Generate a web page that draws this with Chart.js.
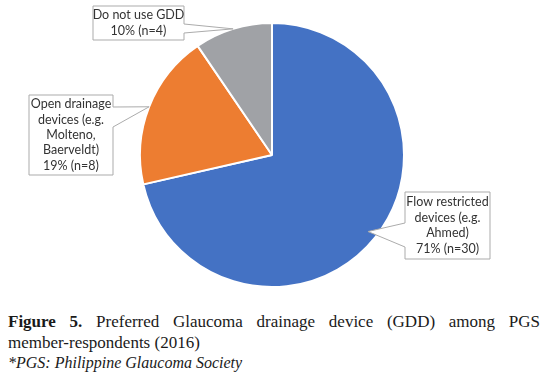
<!DOCTYPE html>
<html>
<head>
<meta charset="utf-8">
<script src="https://cdn.jsdelivr.net/npm/chart.js@4.4.0/dist/chart.umd.min.js"></script>
<style>
    body { margin: 0; background: #fff; width: 543px; height: 377px; overflow: hidden; position: relative; }
    #wrap { position: absolute; left: 0; top: 0; width: 543px; height: 300px; }
    #caption {
        position: absolute; left: 8px; top: 312px; width: 532px;
        font-family: 'Liberation Serif', serif; font-size: 17px; line-height: 20.5px; color: #1a1a1a;
    }
    #caption .l1 { text-align: justify; text-align-last: justify; }
    #caption b { font-weight: bold; }
    #caption i { font-style: italic; font-size: 16px; }
</style>
</head>
<body>
<div id="wrap"><canvas id="pieChart"></canvas></div>
<div id="caption">
    <div class="l1"><b>Figure 5.</b> Preferred Glaucoma drainage device (GDD) among PGS</div>
    <div>member-respondents (2016)</div>
    <div><i>*PGS: Philippine Glaucoma Society</i></div>
</div>
<script>
const categories = ['Flow restricted devices (e.g. Ahmed)', 'Open drainage devices (e.g. Molteno, Baerveldt)', 'Do not use GDD'];
const counts = [30, 8, 4];
const percents = [71, 19, 10];
const labelLines = [
    ['Flow restricted', 'devices (e.g.', 'Ahmed)', percents[0] + '% (n=' + counts[0] + ')'],
    ['Open drainage', 'devices (e.g.', 'Molteno,', 'Baerveldt)', percents[1] + '% (n=' + counts[1] + ')'],
    ['Do not use GDD', percents[2] + '% (n=' + counts[2] + ')']
];
const colors = ['#4472C4', '#ED7D31', '#A0A2A6'];

// callout boxes: box rect, side of the wedge, wedge y range, where the tip sits (fraction of radius)
const callouts = [
    { x: 405, y: 192, w: 85, h: 67, side: 'left', wy1: 223, wy2: 247, tipR: 0.93 },
    { x: 29, y: 95, w: 84, h: 80, side: 'right', wy1: 107, wy2: 127, tipR: 1.0 },
    { x: 93, y: 6, w: 91, h: 34, side: 'right', wy1: 24, wy2: 33, tipR: 1.0 }
];

const calloutPlugin = {
    id: 'callouts',
    afterDatasetsDraw(chart) {
        const ctx = chart.ctx;
        const arcs = chart.getDatasetMeta(0).data;
        ctx.save();
        callouts.forEach((c, i) => {
            const arc = arcs[i];
            const mid = (arc.startAngle + arc.endAngle) / 2;
            const tx = arc.x + Math.cos(mid) * arc.outerRadius * c.tipR;
            const ty = arc.y + Math.sin(mid) * arc.outerRadius * c.tipR;

            ctx.beginPath();
            if (c.side === 'right') {
                ctx.moveTo(c.x, c.y);
                ctx.lineTo(c.x + c.w, c.y);
                ctx.lineTo(c.x + c.w, c.wy1);
                ctx.lineTo(tx, ty);
                ctx.lineTo(c.x + c.w, c.wy2);
                ctx.lineTo(c.x + c.w, c.y + c.h);
                ctx.lineTo(c.x, c.y + c.h);
            } else {
                ctx.moveTo(c.x, c.y);
                ctx.lineTo(c.x + c.w, c.y);
                ctx.lineTo(c.x + c.w, c.y + c.h);
                ctx.lineTo(c.x, c.y + c.h);
                ctx.lineTo(c.x, c.wy2);
                ctx.lineTo(tx, ty);
                ctx.lineTo(c.x, c.wy1);
            }
            ctx.closePath();
            ctx.fillStyle = '#fff';
            ctx.fill();
            ctx.strokeStyle = '#ABABAB';
            ctx.lineWidth = 1;
            ctx.stroke();

            const lines = labelLines[i];
            const lh = 15.4;
            const cy = c.y + c.h / 2;
            ctx.fillStyle = '#333';
            ctx.font = '12.5px Lato';
            ctx.textAlign = 'center';
            ctx.textBaseline = 'middle';
            lines.forEach((t, j) => {
                ctx.fillText(t, c.x + c.w / 2, cy + (j - (lines.length - 1) / 2) * lh);
            });
        });
        ctx.restore();
    }
};

new Chart(document.getElementById('pieChart'), {
    type: 'pie',
    data: {
        labels: categories,
        datasets: [{
            data: counts,
            backgroundColor: colors,
            borderColor: '#fff',
            borderWidth: 2,
            radius: 132
        }]
    },
    options: {
        responsive: true,
        maintainAspectRatio: false,
        animation: false,
        layout: { padding: { left: 10, right: 9, top: 20, bottom: 10 } },
        plugins: {
            legend: { display: false },
            tooltip: { enabled: false }
        }
    },
    plugins: [calloutPlugin]
});
</script>
</body>
</html>
